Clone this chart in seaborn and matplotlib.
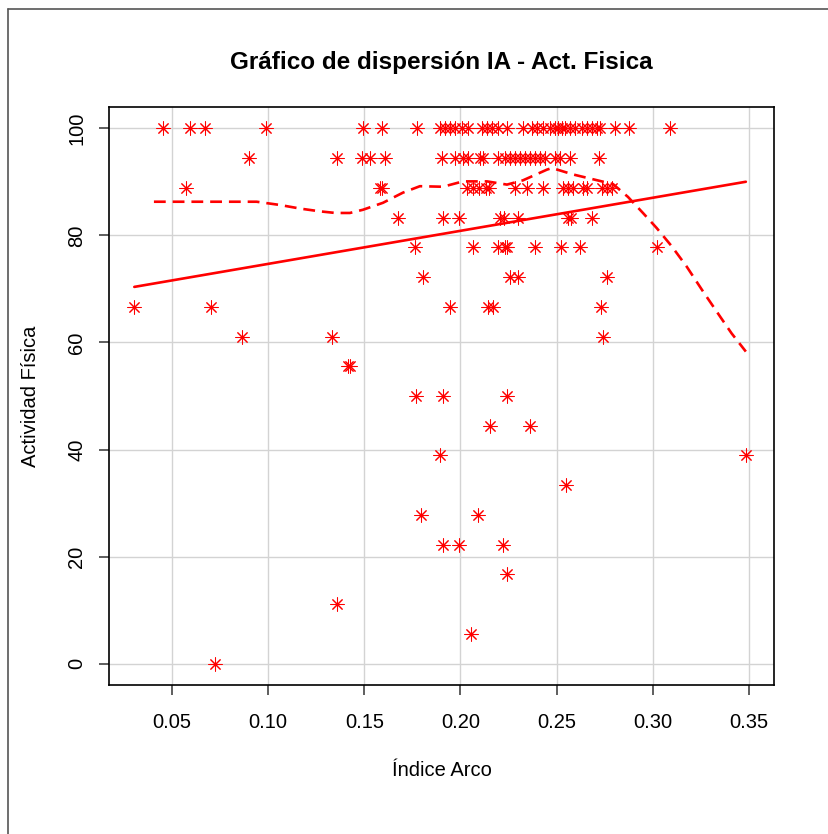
import numpy as np
import pandas as pd
import matplotlib
matplotlib.use("Agg")
import matplotlib.pyplot as plt
import seaborn as sns
from matplotlib.lines import Line2D

# ---------------- data (Índice Arco values grouped by Actividad Física level) ----------------
ia_100_0 = [0.0455, 0.0594, 0.0672, 0.0989, 0.1495, 0.1593, 0.1774, 0.1893, 0.1919, 0.1945,
            0.1971, 0.2006, 0.2041, 0.2110, 0.2136, 0.2162, 0.2197, 0.2240, 0.2327, 0.2370,
            0.2396, 0.2431, 0.2465, 0.2491, 0.2509, 0.2526, 0.2543, 0.2569, 0.2595, 0.2630,
            0.2656, 0.2682, 0.2708, 0.2725, 0.2803, 0.2878, 0.3089]
ia_94_4 = [0.0902, 0.1360, 0.1486, 0.1529, 0.1607, 0.1902, 0.1971, 0.2015, 0.2041, 0.2101,
           0.2115, 0.2197, 0.2231, 0.2257, 0.2283, 0.2309, 0.2335, 0.2361, 0.2387, 0.2413,
           0.2439, 0.2491, 0.2517, 0.2569, 0.2722]
ia_88_9 = [0.0573, 0.1581, 0.1590, 0.2032, 0.2063, 0.2098, 0.2133, 0.2150, 0.2283, 0.2344,
           0.2427, 0.2531, 0.2560, 0.2583, 0.2635, 0.2659, 0.2734, 0.2763, 0.2786]
ia_83_3 = [0.1677, 0.1911, 0.1994, 0.2205, 0.2226, 0.2300, 0.2560, 0.2573, 0.2682]
ia_77_8 = [0.1763, 0.2063, 0.2197, 0.2231, 0.2243, 0.2390, 0.2521, 0.2621, 0.3023]
ia_72_2 = [0.1805, 0.2257, 0.2299, 0.2760]
ia_66_7 = [0.0304, 0.0703, 0.1945, 0.2145, 0.2171, 0.2729]
ia_61_1 = [0.0862, 0.1330, 0.2739]
ia_55_6 = [0.1417, 0.1425]
ia_50_0 = [0.1769, 0.1907, 0.2240]
ia_44_4 = [0.2153, 0.2361]
ia_38_9 = [0.1893, 0.3484]
ia_33_3 = [0.2549]
ia_27_8 = [0.1795, 0.2093]
ia_22_2 = [0.1907, 0.1994, 0.2219]
ia_16_7 = [0.2240]
ia_11_1 = [0.1360]
ia_5_6 = [0.2055]
ia_0_0 = [0.0724]

act_levels = [100.0, 94.44, 88.89, 83.33, 77.78, 72.22, 66.67, 61.11, 55.56, 50.0,
              44.44, 38.89, 33.33, 27.78, 22.22, 16.67, 11.11, 5.56, 0.0]
ia_groups = [ia_100_0, ia_94_4, ia_88_9, ia_83_3, ia_77_8, ia_72_2, ia_66_7, ia_61_1,
             ia_55_6, ia_50_0, ia_44_4, ia_38_9, ia_33_3, ia_27_8, ia_22_2, ia_16_7,
             ia_11_1, ia_5_6, ia_0_0]

# smoother
smooth_x = [0.0406, 0.0600, 0.0800, 0.0940, 0.1060, 0.1170, 0.1270, 0.1350, 0.1425, 0.1493,
            0.1597, 0.1701, 0.1789, 0.1909, 0.2013, 0.2138, 0.2242, 0.2325, 0.2450, 0.2476,
            0.2585, 0.2689, 0.2793, 0.2871, 0.2949, 0.3020, 0.3098, 0.3176, 0.3262, 0.3349,
            0.3410, 0.3484]
smooth_y = [86.3, 86.3, 86.3, 86.3, 85.7, 85.0, 84.5, 84.2, 84.2, 84.8,
            86.1, 88.0, 89.2, 89.1, 90.1, 90.1, 89.5, 90.3, 92.3, 92.6,
            91.4, 90.5, 89.6, 87.2, 84.2, 81.4, 78.0, 74.2, 69.5, 64.9,
            61.7, 58.3]

x_ticks = [0.05, 0.10, 0.15, 0.20, 0.25, 0.30, 0.35]
x_ticklabels = ["0.05", "0.10", "0.15", "0.20", "0.25", "0.30", "0.35"]
y_ticks = [0, 20, 40, 60, 80, 100]
y_ticklabels = ["0", "20", "40", "60", "80", "100"]

title = "Gráfico de dispersión IA - Act. Fisica"
xlabel = "Índice Arco"
ylabel = "Actividad Física"

df = pd.DataFrame({
    "ia": [v for g in ia_groups for v in g],
    "act": [lvl for lvl, g in zip(act_levels, ia_groups) for _ in g],
})
smooth_df = pd.DataFrame({"x": smooth_x, "y": smooth_y})

# ---------------- plot ----------------
sns.set_theme(style="white")
plt.rcParams["font.family"] = ["Liberation Sans", "DejaVu Sans"]
plt.rcParams["lines.scale_dashes"] = False

W, H = 829, 834
fig = plt.figure(figsize=(W / 100, H / 100), dpi=100)
fig.patch.set_facecolor("white")
L, R, T, B = 109, 774.5, 107, 685
ax = fig.add_axes([L / W, 1 - B / H, (R - L) / W, (B - T) / H])
ax.set_facecolor("white")

ax.set_xlim(0.01724, 0.3633)
ax.set_ylim(-4, 104)
ax.set_xticks(x_ticks)
ax.set_xticklabels(x_ticklabels)
ax.set_yticks(y_ticks)
ax.set_yticklabels(y_ticklabels)
ax.grid(True, color="#d3d3d3", linewidth=1.0)
ax.set_axisbelow(True)

star = (8, 2, 0)
sns.scatterplot(data=df, x="ia", y="act", ax=ax, marker=star, s=90,
                color="#ff0000", edgecolor="#ff0000", linewidth=0.75, zorder=3, legend=False)
sns.regplot(data=df, x="ia", y="act", ax=ax, scatter=False, ci=None,
            line_kws=dict(color="#ff0000", linewidth=1.9, zorder=4))
sns.lineplot(data=smooth_df, x="x", y="y", ax=ax, sort=False, estimator=None,
             color="#ff0000", linewidth=1.9, linestyle=(0, (8.5, 5.0)), zorder=4)

ax.set_xlim(0.01724, 0.3633)
ax.set_ylim(-4, 104)

for s in ax.spines.values():
    s.set_visible(True)
    s.set_color("black")
    s.set_linewidth(1.2)

ax.tick_params(axis="both", which="major", length=7.2, width=1.1, color="#333333",
               labelsize=14.5, labelcolor="black", bottom=True, left=True)
ax.tick_params(axis="x", pad=13)
ax.tick_params(axis="y", labelrotation=90, pad=9)
for lbl in ax.get_yticklabels():
    lbl.set_va("center")

ax.set_xlabel(xlabel, fontsize=14.5, color="black")
ax.xaxis.set_label_coords(0.5, (B - 770) / (B - T))
ax.xaxis.label.set_va("center")
ax.set_ylabel(ylabel, fontsize=14.5, color="black")
ax.yaxis.set_label_coords((30 - L) / (R - L), 0.5)
ax.yaxis.label.set_va("center")

ax.set_title(title, fontsize=17.5, fontweight="bold", color="black",
             y=(B - 62) / (B - T), va="center", pad=0)

# outer frame (top and left edges visible)
fig.add_artist(Line2D([8.5 / W, 1.0], [1 - 8.5 / H, 1 - 8.5 / H], transform=fig.transFigure,
                      color="#555555", linewidth=1.2))
fig.add_artist(Line2D([8.5 / W, 8.5 / W], [0.0, 1 - 8.5 / H], transform=fig.transFigure,
                      color="#555555", linewidth=1.2))

fig.savefig("out.png", dpi=100, facecolor="white")
